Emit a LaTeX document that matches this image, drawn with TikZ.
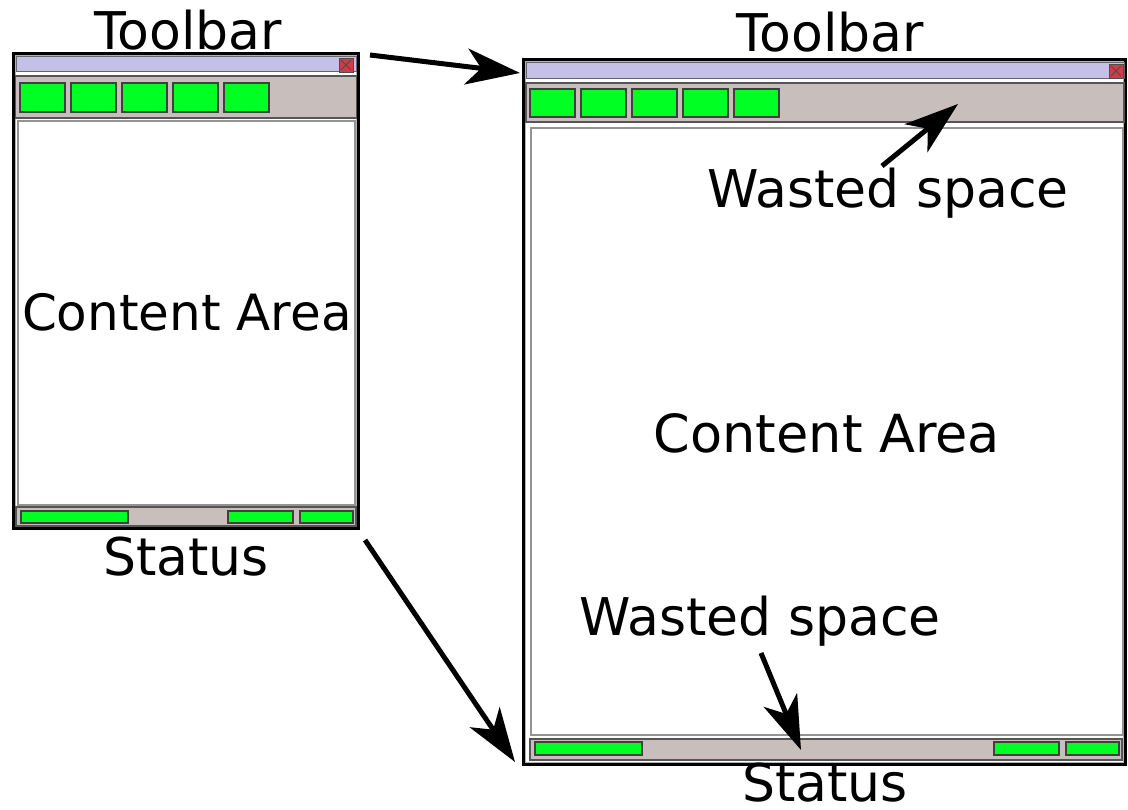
\documentclass[tikz,border=0pt]{standalone}
\usepackage{fontspec}
\setmainfont{DejaVu Sans}
\usetikzlibrary{arrows.meta}
\definecolor{titlebar}{HTML}{C4C0E8}
\definecolor{barfill}{HTML}{C8BFBC}
\definecolor{btn}{HTML}{00FF22}
\definecolor{closered}{HTML}{D23A48}
\definecolor{edge}{HTML}{555555}
\tikzset{
  frame/.style={draw=black, line width=3.5pt, fill=white},
  innerline/.style={draw=gray!60, line width=1.2pt},
  tbar/.style={fill=titlebar, draw=gray!80!black, line width=1pt},
  band/.style={fill=barfill, draw=edge, line width=1.5pt},
  button/.style={fill=btn, draw=black!75, line width=1.3pt},
  content/.style={fill=white, draw=gray!85, line width=2pt},
  closebox/.style={fill=closered, draw=black!70, line width=0.8pt},
  label/.style={font=\fontsize{52}{62}\selectfont, inner sep=0pt},
  pointer/.style={line width=5pt, -{Stealth[length=54pt, width=36pt, inset=15pt]}}
}
\begin{document}
\begin{tikzpicture}[x=1pt, y=-1pt]
\useasboundingbox (0,0) rectangle (1128,810);

% ---------- small window ----------
\draw[frame] (13.5,53.5) rectangle (358.5,528.5);
\draw[innerline] (15.5,55.5) rectangle (356.5,526.5);
\draw[tbar] (16,57) rectangle (356,72);
\draw[closebox] (339,58) rectangle (353,72);
\draw[black!70, line width=1pt] (341,60) -- (351,70) (351,60) -- (341,70);
\draw[band] (15.5,76) rectangle (356.5,118);
\foreach \k in {0,...,4}
  \draw[button] ({20+51*\k},83) rectangle ({65+51*\k},112);
\draw[content] (18,121) rectangle (355,505);
\draw[band] (16,507) rectangle (356,526);
\draw[button] (21,511) rectangle (128,523);
\draw[button] (228,511) rectangle (293,523);
\draw[button] (300,511) rectangle (353,523);

% ---------- large window ----------
\draw[frame] (523.5,59.5) rectangle (1125.5,764.5);
\draw[innerline] (525.5,61.5) rectangle (1123.5,762.5);
\draw[tbar] (526,63) rectangle (1124,79);
\draw[closebox] (1109,64) rectangle (1123,78);
\draw[black!70, line width=1pt] (1111,66) -- (1121,76) (1121,66) -- (1111,76);
\draw[band] (526,83) rectangle (1124,122);
\foreach \k in {0,...,4}
  \draw[button] ({530+51*\k},89) rectangle ({575+51*\k},117);
\draw[content] (531,128) rectangle (1123,735);
\draw[band] (530,739) rectangle (1122,760);
\draw[button] (535,742) rectangle (642,755);
\draw[button] (994,742) rectangle (1059,755);
\draw[button] (1066,742) rectangle (1119,755);

% ---------- labels ----------
\node[label] (tbA) at (188,30) {Toolbar};
\node[label, font=\fontsize{50}{60}\selectfont] (caA) at (187,312) {Content Area};
\node[label] (stA) at (186,557) {Status};
\node[label] (tbB) at (830,32) {Toolbar};
\node[label] (wsT) at (888,193) {Wasted space};
\node[label, font=\fontsize{52.5}{62}\selectfont] (caB) at (827,433) {Content Area};
\node[label] (wsB) at (760,621) {Wasted space};
\node[label, anchor=base] (stB) at (825,801) {Status};

% ---------- connectors ----------
\coordinate (a1) at (370,55);
\coordinate (a2) at (520,73);
\coordinate (b1) at (365,540);
\coordinate (b2) at (515,762);
\coordinate (c1) at (882,166);
\coordinate (c2) at (958,104);
\coordinate (d1) at (761,653);
\coordinate (d2) at (801,750);
\draw[pointer] (a1) -- (a2);
\draw[pointer] (b1) -- (b2);
\draw[pointer] (c1) -- (c2);
\draw[pointer] (d1) -- (d2);
\end{tikzpicture}
\end{document}
